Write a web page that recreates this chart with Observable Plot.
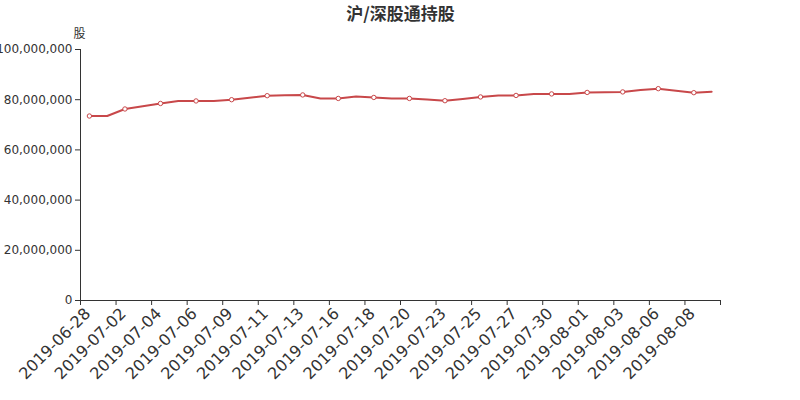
<!DOCTYPE html>
<html>
<head>
<meta charset="utf-8">
<script src="https://cdn.jsdelivr.net/npm/d3@7"></script>
<script src="https://cdn.jsdelivr.net/npm/@observablehq/plot@0.6"></script>
<style>
  html, body { margin: 0; padding: 0; background: #fff; }
  #chart { position: relative; width: 800px; height: 400px; font-family: "DejaVu Sans", sans-serif; }
</style>
</head>
<body>
<div id="chart"></div>
<script>
const title = "沪/深股通持股";
const yName = "股";
const dates = [
  "2019-06-28","2019-06-29","2019-07-02","2019-07-03","2019-07-04","2019-07-05","2019-07-06","2019-07-08",
  "2019-07-09","2019-07-10","2019-07-11","2019-07-12","2019-07-13","2019-07-15","2019-07-16","2019-07-17",
  "2019-07-18","2019-07-19","2019-07-20","2019-07-22","2019-07-23","2019-07-24","2019-07-25","2019-07-26",
  "2019-07-27","2019-07-29","2019-07-30","2019-07-31","2019-08-01","2019-08-02","2019-08-03","2019-08-05",
  "2019-08-06","2019-08-07","2019-08-08","2019-08-09"
];
const holdings = [
  73.5e6, 73.5e6, 76.3e6, 77.4e6, 78.5e6, 79.5e6, 79.5e6, 79.5e6,
  80.0e6, 80.8e6, 81.6e6, 81.8e6, 81.9e6, 80.5e6, 80.5e6, 81.3e6,
  80.9e6, 80.5e6, 80.5e6, 80.1e6, 79.6e6, 80.3e6, 81.1e6, 81.7e6,
  81.7e6, 82.3e6, 82.3e6, 82.3e6, 82.9e6, 83.0e6, 83.1e6, 83.9e6,
  84.4e6, 83.6e6, 82.8e6, 83.2e6
];
const yTicks = [0, 20e6, 40e6, 60e6, 80e6, 100e6];

const data = dates.map((d, i) => ({i, pos: i + 0.5, date: d, value: holdings[i]}));
const labeled = data.filter(d => d.i % 2 === 0);
const tickPositions = d3.range(0, dates.length + 1, 2);

const color = "#c8484a";
const ink = "#333";

const chart = Plot.plot({
  width: 800,
  height: 400,
  marginLeft: 80,
  marginRight: 80,
  marginTop: 49,
  marginBottom: 100,
  style: {fontFamily: "DejaVu Sans, sans-serif", color: ink, background: "#fff", overflow: "visible"},
  x: {type: "linear", domain: [0, dates.length], label: null},
  y: {domain: [0, 100e6], label: null},
  marks: [
    Plot.ruleX([0], {stroke: ink, strokeWidth: 1}),
    Plot.ruleY([0], {stroke: ink, strokeWidth: 1}),
    Plot.axisY({ticks: yTicks, tickFormat: d3.format(","), tickSize: 5, tickPadding: 3, fontSize: 12, stroke: ink, fill: ink, label: null}),
    Plot.axisX({ticks: tickPositions, tickFormat: () => "", tickSize: 5, stroke: ink, label: null}),
    Plot.text(labeled, {x: "pos", text: "date", frameAnchor: "bottom", rotate: -45, textAnchor: "end", dy: 14, dx: 2, fontSize: 16, fill: ink}),
    Plot.line(data, {x: "pos", y: "value", stroke: color, strokeWidth: 2}),
    Plot.dot(labeled, {x: "pos", y: "value", r: 2.2, fill: "#fff", stroke: color, strokeWidth: 1}),
    Plot.text([title], {text: d => d, frameAnchor: "top", dy: -42, fontSize: 17, fontWeight: "bold", fill: ink, fontFamily: "Noto Sans CJK SC, sans-serif"}),
    Plot.text([yName], {text: d => d, frameAnchor: "top-left", textAnchor: "middle", dy: -20, dx: -1, fontSize: 12, fill: ink, fontFamily: "Noto Sans CJK SC, sans-serif"})
  ]
});
document.getElementById("chart").appendChild(chart);
</script>
</body>
</html>
